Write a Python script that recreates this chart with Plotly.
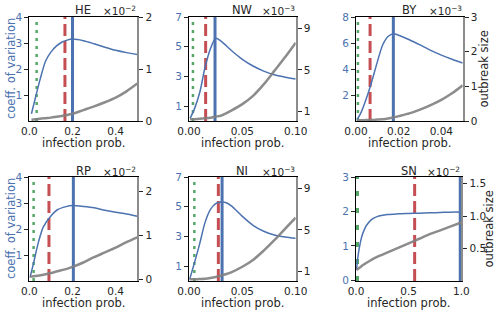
import plotly.graph_objects as go

W, H = 501, 315
BLUE = '#4c72b0'
RED = '#c44e52'
GREEN = '#55a868'
GRAY = '#8c8c8c'
FONT = 'DejaVu Sans'

panel_names = ['HE', 'NW', 'BY', 'RP', 'NI', 'SN']

# ---- data ----
he_p = [0.01, 0.03, 0.05, 0.075, 0.1, 0.125, 0.15, 0.175, 0.2, 0.25, 0.3, 0.35, 0.4, 0.45, 0.5]
he_cv = [0.28, 0.95, 1.6, 2.3, 2.65, 2.88, 3.03, 3.11, 3.15, 3.09, 2.97, 2.84, 2.72, 2.63, 2.56]
he_size = [0.026, 0.035, 0.045, 0.055, 0.065, 0.08, 0.095, 0.115, 0.14, 0.21, 0.28, 0.36, 0.45, 0.57, 0.72]

nw_p = [0.001, 0.005, 0.01, 0.015, 0.02, 0.025, 0.03, 0.04, 0.05, 0.06, 0.07, 0.08, 0.09, 0.1]
nw_cv = [0.18, 0.8, 1.9, 3.6, 4.85, 5.57, 5.38, 4.73, 4.15, 3.7, 3.36, 3.11, 2.95, 2.82]
nw_size = [0.24, 0.26, 0.3, 0.35, 0.4, 0.5, 0.6, 1.1, 1.7, 2.5, 3.6, 4.9, 6.2, 7.6]

by_p = [0.0005, 0.0025, 0.005, 0.0075, 0.01, 0.0125, 0.015, 0.0175, 0.02, 0.025, 0.03, 0.035, 0.04, 0.045, 0.05]
by_cv = [0.1, 0.7, 1.8, 3.1, 4.55, 5.85, 6.5, 6.72, 6.6, 6.25, 5.85, 5.43, 5.07, 4.75, 4.46]
by_size = [0.02, 0.02, 0.03, 0.03, 0.04, 0.05, 0.07, 0.1, 0.14, 0.22, 0.33, 0.46, 0.61, 0.8, 1.03]

rp_p = [0.003, 0.02, 0.04, 0.065, 0.1, 0.13, 0.17, 0.2, 0.25, 0.3, 0.35, 0.4, 0.45, 0.5]
rp_cv = [0.13, 0.7, 1.42, 2.08, 2.5, 2.74, 2.86, 2.9, 2.87, 2.82, 2.72, 2.64, 2.58, 2.49]
rp_size = [0.06, 0.07, 0.08, 0.1, 0.14, 0.18, 0.23, 0.28, 0.38, 0.5, 0.61, 0.72, 0.84, 0.95]

ni_p = [0.0006, 0.005, 0.01, 0.015, 0.02, 0.025, 0.03, 0.035, 0.04, 0.05, 0.06, 0.07, 0.08, 0.09, 0.1]
ni_cv = [0.11, 1.2, 2.5, 3.93, 4.8, 5.2, 5.32, 5.27, 5.04, 4.35, 3.75, 3.35, 3.1, 2.96, 2.87]
ni_size = [0.24, 0.25, 0.27, 0.3, 0.37, 0.47, 0.6, 0.75, 0.94, 1.45, 2.1, 3.0, 4.0, 5.1, 6.17]

sn_p = [0.005, 0.02, 0.04, 0.06, 0.08, 0.1, 0.15, 0.2, 0.3, 0.4, 0.5, 0.6, 0.7, 0.8, 0.9, 1.0]
sn_cv = [0.3, 0.72, 1.08, 1.32, 1.48, 1.6, 1.77, 1.85, 1.91, 1.93, 1.94, 1.95, 1.96, 1.97, 1.98, 1.98]
sn_size = [0.17, 0.19, 0.21, 0.24, 0.26, 0.28, 0.33, 0.37, 0.44, 0.51, 0.58, 0.65, 0.72, 0.78, 0.84, 0.9]

# threshold markers (vertical lines)
green_p = [0.034, 0.0037, 0.0009, 0.02, 0.005, 0.012]
red_p = [0.165, 0.0156, 0.0066, 0.091, 0.0275, 0.557]
blue_p = [0.2, 0.0244, 0.0175, 0.204, 0.031, 0.99]

# axes
x_ranges = [[0, 0.5], [0, 0.1], [0, 0.05], [0, 0.5], [0, 0.1], [0, 1.0]]
x_tickvals = [[0, 0.2, 0.4], [0, 0.05, 0.1], [0, 0.02, 0.04], [0, 0.2, 0.4], [0, 0.05, 0.1], [0, 0.5, 1.0]]
x_ticktext = [['0.0', '0.2', '0.4'], ['0.00', '0.05', '0.10'], ['0.00', '0.02', '0.04'],
              ['0.0', '0.2', '0.4'], ['0.00', '0.05', '0.10'], ['0.0', '0.5', '1.0']]
cv_ranges = [[0, 4], [0, 7], [0, 8], [0, 4], [0, 7], [-0.02, 3]]
cv_ticks = [[1, 2, 3, 4], [1, 3, 5, 7], [2, 4, 6, 8], [1, 2, 3, 4], [1, 3, 5, 7], [0, 1, 2, 3]]
size_ranges = [[0, 2], [0.08, 10.08], [0, 3], [-0.04, 2.32], [0.08, 10.08], [0, 1.6]]
size_ticks = [[0, 1, 2], [1, 5, 9], [0, 1, 2, 3], [0, 1, 2], [1, 5, 9], [0.5, 1.0, 1.5]]
size_ticktext = [['0', '1', '2'], ['1', '5', '9'], ['0', '1', '2', '3'], ['0', '1', '2'],
                 ['1', '5', '9'], ['0.5', '1.0', '1.5']]
exponents = ['−2', '−3', '−3', '−2', '−3', '−2']

series_p = [he_p, nw_p, by_p, rp_p, ni_p, sn_p]
series_cv = [he_cv, nw_cv, by_cv, rp_cv, ni_cv, sn_cv]
series_size = [he_size, nw_size, by_size, rp_size, ni_size, sn_size]

# ---- layout geometry (pixels) ----
col_px = [(29.3, 137.3), (189, 295.7), (356, 462.7)]
row_px = [(17, 121), (177, 281)]
right_label_x = [483.5, 488.5]


def px_x(x):
    return x / W


def px_y(y):
    return 1 - y / H


fig = go.Figure()
layout = dict(
    width=W, height=H,
    margin=dict(l=0, r=0, t=0, b=0, autoexpand=False),
    paper_bgcolor='white', plot_bgcolor='white',
    showlegend=False,
    font=dict(family=FONT, size=10.5, color='#262626'),
)
annotations = []

for i in range(6):
    r, c = divmod(i, 3)
    xi = i + 1
    yl = 2 * i + 1
    yr = 2 * i + 2
    xs = 'x' if xi == 1 else f'x{xi}'
    yls = 'y' if yl == 1 else f'y{yl}'
    yrs = f'y{yr}'
    x0, x1 = col_px[c]
    if i == 5:
        x1 = 461.3
    y0, y1 = row_px[r]

    lo, hi = cv_ranges[i]
    # vertical threshold lines
    gdash = '5px,12px' if i == 5 else '3px,5px'
    gw = 3.5 if i == 5 else 2.5
    fig.add_trace(go.Scatter(x=[green_p[i], green_p[i]], y=[lo, hi], mode='lines',
                             line=dict(color=GREEN, width=gw, dash=gdash),
                             xaxis=xs, yaxis=yls, hoverinfo='skip'))
    fig.add_trace(go.Scatter(x=[red_p[i], red_p[i]], y=[lo, hi], mode='lines',
                             line=dict(color=RED, width=3, dash='12px,5px'),
                             xaxis=xs, yaxis=yls, hoverinfo='skip'))
    fig.add_trace(go.Scatter(x=[blue_p[i], blue_p[i]], y=[lo, hi], mode='lines',
                             line=dict(color=BLUE, width=3),
                             xaxis=xs, yaxis=yls, hoverinfo='skip'))
    # coefficient of variation
    fig.add_trace(go.Scatter(x=series_p[i], y=series_cv[i], mode='lines',
                             line=dict(color=BLUE, width=1.5, shape='spline', smoothing=0.8),
                             xaxis=xs, yaxis=yls))
    # outbreak size
    fig.add_trace(go.Scatter(x=series_p[i], y=series_size[i], mode='lines',
                             line=dict(color='rgba(128,128,128,0.9)', width=2.5, shape='spline', smoothing=0.8),
                             xaxis=xs, yaxis=yrs))

    layout['xaxis' if xi == 1 else f'xaxis{xi}'] = dict(
        domain=[px_x(x0), px_x(x1)], anchor=yls, range=x_ranges[i], automargin=False,
        tickvals=x_tickvals[i], ticktext=x_ticktext[i], ticks='',
        showline=True, linecolor='black', linewidth=1, mirror=True,
        showgrid=False, zeroline=False, tickfont=dict(size=10.5, color='#262626'),
    )
    layout['yaxis' if yl == 1 else f'yaxis{yl}'] = dict(
        domain=[px_y(y1), px_y(y0)], anchor=xs, range=cv_ranges[i], automargin=False,
        tickvals=cv_ticks[i], ticks='outside', ticklen=4, tickcolor='#262626', tickwidth=1,
        showline=True, linecolor='black', linewidth=1,
        showgrid=False, zeroline=False, tickfont=dict(size=10.5, color=BLUE),
    )
    layout[f'yaxis{yr}'] = dict(
        domain=[px_y(y1), px_y(y0)], anchor=xs, overlaying=yls, side='right', automargin=False,
        range=size_ranges[i], tickvals=size_ticks[i], ticktext=size_ticktext[i],
        ticks='outside', ticklen=4, tickcolor='#262626', tickwidth=1,
        showline=True, linecolor=GRAY, linewidth=2,
        showgrid=False, zeroline=False, tickfont=dict(size=10.5, color='#262626'),
    )

    cx = (x0 + x1) / 2
    cy = (y0 + y1) / 2
    ty = 9.5 if r == 0 else 170.5
    annotations.append(dict(x=px_x(cx), y=px_y(ty), xref='paper', yref='paper',
                            text=panel_names[i], showarrow=False, xanchor='center', yanchor='middle',
                            font=dict(family=FONT, size=11.5, color='#262626')))
    annotations.append(dict(x=px_x(x1 + 1), y=px_y(ty + 1.5), xref='paper', yref='paper',
                            text='×10<sup>' + exponents[i] + '</sup>', showarrow=False,
                            xanchor='right', yanchor='middle',
                            font=dict(family=FONT, size=10.5, color='#262626')))
    annotations.append(dict(x=px_x(cx), y=px_y(y1 + 22), xref='paper', yref='paper',
                            text='infection prob.', showarrow=False, xanchor='center', yanchor='middle',
                            font=dict(family=FONT, size=11.5, color='#262626')))
    if c == 0:
        annotations.append(dict(x=px_x(11), y=px_y(cy), xref='paper', yref='paper',
                                text='coeff. of variation', showarrow=False, textangle=-90,
                                xanchor='center', yanchor='middle',
                                font=dict(family=FONT, size=11.5, color=BLUE)))
    if c == 2:
        annotations.append(dict(x=px_x(right_label_x[r]), y=px_y(cy), xref='paper', yref='paper',
                                text='outbreak size', showarrow=False, textangle=-90,
                                xanchor='center', yanchor='middle',
                                font=dict(family=FONT, size=11.5, color='#262626')))

layout['annotations'] = annotations
fig.update_layout(**layout)
fig.write_html('out.html', config={'displayModeBar': False},
               post_script="document.body.style.margin='0';document.body.style.overflow='hidden';")
